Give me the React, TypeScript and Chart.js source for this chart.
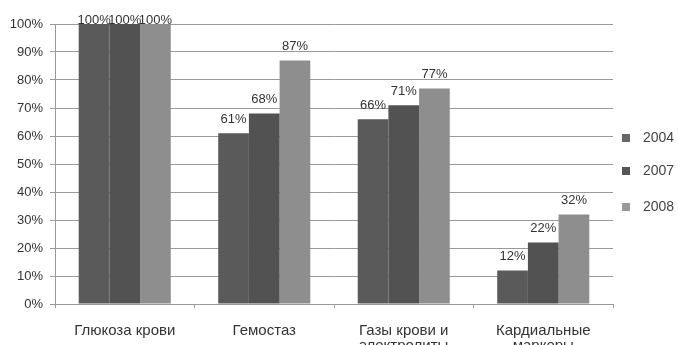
import React, { useEffect, useRef } from "react";
import { Chart, registerables } from "chart.js";

Chart.register(...registerables);

const categories: string[][] = [
  ["Глюкоза крови"],
  ["Гемостаз"],
  ["Газы крови и", "электролиты"],
  ["Кардиальные", "маркеры"],
];
const years = ["2004", "2007", "2008"];
const values2004 = [100, 61, 66, 12];
const values2007 = [100, 68, 71, 22];
const values2008 = [100, 87, 77, 32];
const barColors = ["#5a5a5a", "#525252", "#8e8e8e"];
const legendColors = ["#666666", "#555555", "#999999"];

const FONT = "'Liberation Sans', Arial, sans-serif";

// Percent labels above each bar; labels that would leave the top of the plot are kept just inside it.
const valueLabels = {
  id: "valueLabels",
  afterDatasetsDraw(chart: any) {
    const ctx = chart.ctx;
    const top = chart.chartArea.top;
    ctx.save();
    ctx.font = `13px ${FONT}`;
    ctx.fillStyle = "#333333";
    ctx.textAlign = "center";
    ctx.textBaseline = "middle";
    chart.data.datasets.forEach((ds: any, i: number) => {
      const meta = chart.getDatasetMeta(i);
      meta.data.forEach((bar: any, j: number) => {
        const y = Math.max(bar.y - 14, top - 4);
        ctx.fillText(`${ds.data[j]}%`, bar.x, y);
      });
    });
    ctx.restore();
  },
};

const sideLegend = {
  id: "sideLegend",
  afterDraw(chart: any) {
    const ctx = chart.ctx;
    const rows = [138, 171, 207];
    ctx.save();
    ctx.font = `14px ${FONT}`;
    ctx.textBaseline = "middle";
    ctx.textAlign = "left";
    chart.data.datasets.forEach((ds: any, i: number) => {
      const y = rows[i];
      ctx.fillStyle = legendColors[i];
      ctx.fillRect(622, y - 4, 8, 8);
      ctx.fillStyle = "#444444";
      ctx.fillText(ds.label, 643, y);
    });
    ctx.restore();
  },
};

export default function App() {
  const ref = useRef<HTMLCanvasElement | null>(null);

  useEffect(() => {
    document.body.style.margin = "0";
    const canvas = ref.current;
    if (!canvas) return;
    const chart = new Chart(canvas, {
      type: "bar",
      data: {
        labels: categories as any,
        datasets: [values2004, values2007, values2008].map((d, i) => ({
          label: years[i],
          data: d,
          backgroundColor: barColors[i],
          borderWidth: 0,
          categoryPercentage: 0.66,
          barPercentage: 1,
        })),
      },
      options: {
        animation: false,
        responsive: false,
        maintainAspectRatio: false,
        layout: { padding: { left: 0, right: 65, top: 24, bottom: 0 } },
        plugins: {
          legend: { display: false },
          tooltip: { enabled: false },
        },
        scales: {
          x: {
            grid: {
              offset: true,
              drawOnChartArea: false,
              drawTicks: true,
              tickLength: 4,
              color: "#999999",
            },
            border: { color: "#999999", width: 1 },
            ticks: {
              color: "#333333",
              font: { family: FONT, size: 15, lineHeight: 0.95 },
              padding: 16,
              maxRotation: 0,
              autoSkip: false,
            },
            afterFit(scale: any) {
              scale.height = 56;
            },
          },
          y: {
            min: 0,
            max: 100,
            grid: {
              color: "#9a9a9a",
              lineWidth: 1,
              drawTicks: true,
              tickLength: 5,
            },
            border: { color: "#999999", width: 1 },
            ticks: {
              stepSize: 10,
              color: "#333333",
              font: { family: FONT, size: 13 },
              padding: 7,
              callback: (v: any) => `${v}%`,
            },
            afterFit(scale: any) {
              scale.width = 55;
            },
          },
        },
      },
      plugins: [valueLabels, sideLegend],
    });
    return () => chart.destroy();
  }, []);

  return (
    <div style={{ width: 678, height: 345, overflow: "hidden", background: "#fff" }}>
      <canvas ref={ref} width={678} height={360} style={{ display: "block" }} />
    </div>
  );
}
